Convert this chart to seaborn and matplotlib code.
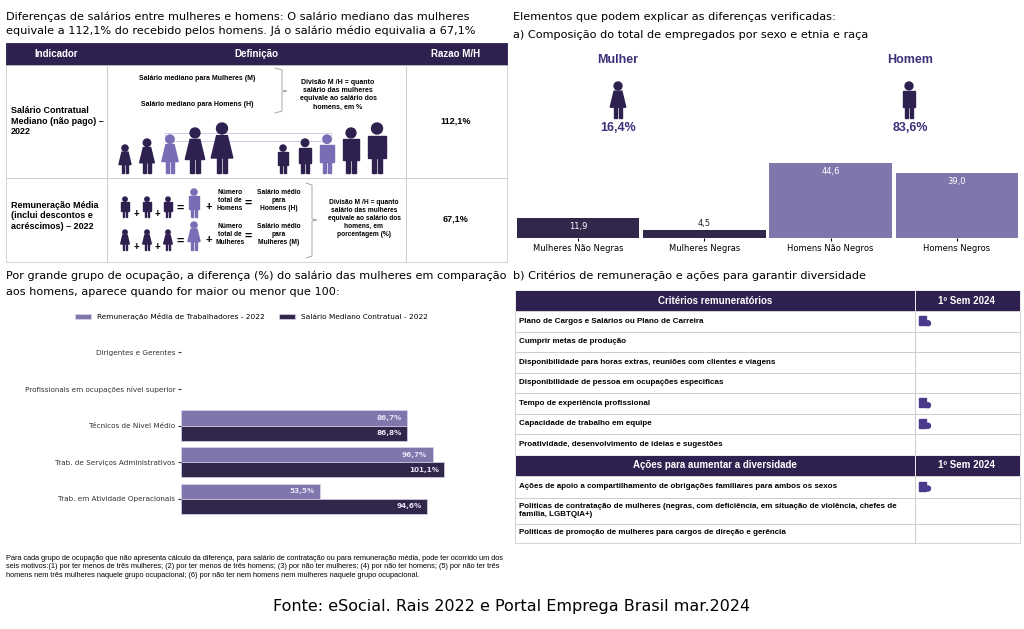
import matplotlib
matplotlib.use("Agg")
import matplotlib.pyplot as plt
import matplotlib.patches as mp
import seaborn as sns
import pandas as pd

DARK = "#2e2150"
LIGHT = "#7b6db5"
ARIAL = "Liberation Sans"
TSIZE = 8.1

# ---- data ----
comp_cats = ["Mulheres Não Negras", "Mulheres Negras", "Homens Não Negros", "Homens Negros"]
comp_vals = [11.9, 4.5, 44.6, 39.0]
comp_colors = [DARK, DARK, LIGHT, LIGHT]

occ_cats = ["Dirigentes e Gerentes", "Profissionais em ocupações nível superior",
            "Técnicos de Nível Médio", "Trab. de Serviços Administrativos",
            "Trab. em Atividade Operacionais"]
remun_media = [None, None, 86.7, 96.7, 53.5]
salario_mediano = [None, None, 86.8, 101.1, 94.6]

criterios = ["Plano de Cargos e Salários ou Plano de Carreira", "Cumprir metas de produção",
             "Disponibilidade para horas extras, reuniões com clientes e viagens",
             "Disponibilidade de pessoa em ocupações especificas",
             "Tempo de experiência profissional", "Capacidade de trabalho em equipe",
             "Proatividade, desenvolvimento de ideias e sugestões"]
criterios_sim = [True, False, False, False, True, True, False]
acoes = ["Ações de apoio a compartilhamento de obrigações familiares para ambos os sexos",
         "Politicas de contratação de mulheres (negras, com deficiência, em situação de violência, chefes de\nfamília, LGBTQIA+)",
         "Politicas de promoção de mulheres para cargos de direção e gerência"]
acoes_sim = [True, False, False]

fig = plt.figure(figsize=(10.24, 6.29), dpi=100)
bg = fig.add_axes([0, 0, 1, 1])
bg.set_xlim(0, 1024)
bg.set_ylim(629, 0)
bg.axis("off")


def txt(x, y, s, size=6, bold=False, ha="left", color="black", family=ARIAL, **kw):
    bg.text(x, y, s, fontsize=size, fontweight="bold" if bold else "normal", ha=ha,
            va="center", color=color, family=family, **kw)


def rect(x0, y0, x1, y1, fc="none", ec="#cccccc", lw=0.6):
    bg.add_patch(mp.Rectangle((x0, y0), x1 - x0, y1 - y0, fc=fc, ec=ec, lw=lw))


def person(x, yb, h, color, female=False):
    r = h * 0.11
    bg.add_patch(mp.Circle((x, yb - h + r), r, color=color))
    w = h * 0.36
    top = yb - h + 2.3 * r
    if female:
        bg.add_patch(mp.Polygon([(x - w * 0.3, top), (x + w * 0.3, top), (x + w * 0.6, yb - h * 0.3),
                                 (x - w * 0.6, yb - h * 0.3)], color=color))
    else:
        bg.add_patch(mp.Rectangle((x - w / 2, top), w, h * 0.45, color=color))
    bg.add_patch(mp.Rectangle((x - w * 0.3, yb - h * 0.35), w * 0.22, h * 0.35, color=color))
    bg.add_patch(mp.Rectangle((x + w * 0.08, yb - h * 0.35), w * 0.22, h * 0.35, color=color))


def building(x, y):
    bg.add_patch(mp.Rectangle((x, y - 5), 7, 9, color="#4b3a8c"))
    bg.add_patch(mp.Circle((x + 9, y + 2), 2.5, color="#4b3a8c"))


# ---- top-left titles ----
txt(6, 17, "Diferenças de salários entre mulheres e homens: O salário mediano das mulheres",
    size=TSIZE, family="DejaVu Sans")
txt(6, 31, "equivale a 112,1% do recebido pelos homens. Já o salário médio equivalia a 67,1%",
    size=TSIZE, family="DejaVu Sans")

# table 1
rect(6, 43, 507, 65, fc=DARK, ec=DARK)
for xc, s in [(56, "Indicador"), (256, "Definição"), (456, "Razao M/H")]:
    txt(xc, 54, s, size=7, bold=True, ha="center", color="white")
for x0, x1 in [(6, 107), (107, 406), (406, 507)]:
    rect(x0, 65, x1, 178)
    rect(x0, 178, x1, 262)
txt(11, 121, "Salário Contratual\nMediano (não pago) –\n2022", size=6.5, bold=True, linespacing=1.2)
txt(11, 216, "Remuneração Média\n(inclui descontos e\nacréscimos) – 2022", size=6.5, bold=True, linespacing=1.2)
txt(456, 121, "112,1%", size=6.5, bold=True, ha="center")
txt(456, 219, "67,1%", size=6.5, bold=True, ha="center")
txt(197, 79, "Salário mediano para Mulheres (M)", size=5, bold=True, ha="center")
txt(197, 104, "Salário mediano para Homens (H)", size=5, bold=True, ha="center")
bg.plot([275, 282, 282, 287, 282, 282, 275], [68, 70, 90, 91, 92, 111, 113], color="#999999", lw=0.6)
txt(338, 95, "Divisão M /H = quanto\nsalário das mulheres\nequivale ao salário dos\nhomens, em %", size=5,
    bold=True, ha="center")
bg.add_patch(mp.Rectangle((165, 133), 166, 8, fc="none", ec="#c9c2ea", lw=0.6))
for x, h, c in [(125, 28, DARK), (147, 34, DARK), (170, 38, LIGHT), (195, 45, DARK), (222, 50, DARK)]:
    person(x, 173, h, c, female=True)
for x, h, c in [(283, 28, DARK), (305, 34, DARK), (327, 38, LIGHT), (351, 45, DARK), (377, 50, DARK)]:
    person(x, 173, h, c)
for yb, lab, sal in [(217, "Número\ntotal de\nHomens", "Salário médio\npara\nHomens (H)"),
                     (250, "Número\ntotal de\nMulheres", "Salário médio\npara\nMulheres (M)")]:
    for x in (125, 147, 168):
        person(x, yb, 20, DARK, female=(yb == 250))
    txt(136, yb - 3, "+", size=7, bold=True, ha="center")
    txt(157, yb - 3, "+", size=7, bold=True, ha="center")
    txt(180, yb - 8, "=", size=9, bold=True, ha="center")
    person(194, yb, 28, LIGHT, female=(yb == 250))
    txt(209, yb - 10, "+", size=8, bold=True, ha="center")
    txt(230, yb - 16, lab, size=4.8, bold=True, ha="center")
    txt(248, yb - 13, "=", size=9, bold=True, ha="center")
    txt(279, yb - 16, sal, size=4.8, bold=True, ha="center")
bg.plot([306, 312, 312, 317, 312, 312, 306], [183, 185, 219, 220, 221, 256, 258], color="#999999", lw=0.6)
txt(364, 218, "Divisão M /H = quanto\nsalário das mulheres\nequivale ao salário dos\nhomens, em\nporcentagem (%)",
    size=4.8, bold=True, ha="center")

# ---- top-right ----
txt(513, 17, "Elementos que podem explicar as diferenças verificadas:", size=TSIZE, family="DejaVu Sans")
txt(513, 35, "a) Composição do total de empregados por sexo e etnia e raça", size=TSIZE, family="DejaVu Sans")
txt(618, 60, "Mulher", size=9, bold=True, ha="center", color="#3e2f7a")
txt(910, 60, "Homem", size=9, bold=True, ha="center", color="#3e2f7a")
person(618, 118, 36, DARK, female=True)
person(909, 118, 36, DARK)
txt(618, 128, "16,4%", size=9, bold=True, ha="center", color="#3e2f7a")
txt(910, 128, "83,6%", size=9, bold=True, ha="center", color="#3e2f7a")

axa = fig.add_axes([515 / 1024, 1 - 238 / 629, 505 / 1024, 78 / 629])
dfa = pd.DataFrame({"cat": comp_cats, "val": comp_vals})
sns.barplot(data=dfa, x="cat", y="val", hue="cat", palette=comp_colors, legend=False, width=0.97, ax=axa)
axa.set_ylim(0, 46.5)
for bar, v in zip(axa.patches, comp_vals):
    inside = v > 8
    axa.text(bar.get_x() + bar.get_width() / 2, v - 2.5 if inside else v + 1.2,
             f"{v:.1f}".replace(".", ","), ha="center", va="top" if inside else "bottom",
             color="white" if inside else "#222222", fontsize=6, family="DejaVu Sans")
axa.set_xlabel("")
axa.set_ylabel("")
axa.set_yticks([])
axa.tick_params(axis="x", labelsize=6, length=2, pad=2)
for s in axa.spines.values():
    s.set_visible(False)
axa.patch.set_alpha(0)

# ---- middle-left ----
txt(6, 276, "Por grande grupo de ocupação, a diferença (%) do salário das mulheres em comparação",
    size=TSIZE, family="DejaVu Sans")
txt(6, 292, "aos homens, aparece quando for maior ou menor que 100:", size=TSIZE, family="DejaVu Sans")

axb = fig.add_axes([181 / 1024, 1 - 517 / 629, 320 / 1024, 183 / 629])
dfb = pd.DataFrame({
    "cat": occ_cats * 2,
    "val": remun_media + salario_mediano,
    "serie": ["Remuneração Média de Trabalhadores - 2022"] * 5 + ["Salário Mediano Contratual - 2022"] * 5,
})
sns.barplot(data=dfb, y="cat", x="val", hue="serie", palette=[LIGHT, DARK], orient="h", width=0.82,
            ax=axb, edgecolor="#d9d4ee", linewidth=0.5)
axb.set_xlim(0, 123)
for cont in axb.containers:
    for bar in cont:
        w = bar.get_width()
        if w and w == w:
            axb.text(w - 2, bar.get_y() + bar.get_height() / 2, f"{w:.1f}%".replace(".", ","),
                     ha="right", va="center", color="#e6e2f5", fontsize=5.2, fontweight="bold",
                     family="DejaVu Sans")
axb.set_xlabel("")
axb.set_ylabel("")
axb.set_xticks([])
axb.tick_params(axis="y", labelsize=5.2, length=2, pad=2, colors="#333333")
for s in axb.spines.values():
    s.set_visible(False)
axb.patch.set_alpha(0)
axb.legend(loc="lower center", bbox_to_anchor=(0.22, 1.04), ncol=2, frameon=False, fontsize=5.3,
           handlelength=2.2, handleheight=0.7, columnspacing=2)

txt(6, 567, "Para cada grupo de ocupação que não apresenta cálculo da diferença, para salário de contratação ou para "
    "remuneração média, pode ter ocorrido um dos\nseis motivos:(1) por ter menos de três mulheres; (2) por ter "
    "menos de três homens; (3) por não ter mulheres; (4) por não ter homens; (5) por não ter três\nhomens nem "
    "três mulheres naquele grupo ocupacional; (6) por não ter nem homens nem mulheres naquele grupo ocupacional.",
    size=5.3, linespacing=1.25)

# ---- middle-right table ----
txt(513, 276, "b) Critérios de remuneração e ações para garantir diversidade", size=TSIZE, family="DejaVu Sans")


def header(y0, y1, title):
    rect(515, y0, 915, y1, fc=DARK, ec="white")
    rect(915, y0, 1020, y1, fc=DARK, ec="white")
    txt(715, (y0 + y1) / 2, title, size=7, bold=True, ha="center", color="white")
    txt(967, (y0 + y1) / 2, "1º Sem 2024", size=7, bold=True, ha="center", color="white")


def rows(y, labels, flags, heights):
    for lab, f, h in zip(labels, flags, heights):
        rect(515, y, 915, y + h)
        rect(915, y, 1020, y + h)
        txt(519, y + h / 2, lab, size=5.8, bold=True, linespacing=1.2)
        if f:
            building(919, y + h / 2)
        y += h
    return y


header(290, 311, "Critérios remuneratórios")
y = rows(311, criterios, criterios_sim, [20.5] * 7)
header(y, y + 21, "Ações para aumentar a diversidade")
rows(y + 21, acoes, acoes_sim, [22, 26, 19])

txt(512, 607, "Fonte: eSocial. Rais 2022 e Portal Emprega Brasil mar.2024", size=11.5, ha="center",
    family="DejaVu Sans")

fig.savefig("out.png", dpi=100)
